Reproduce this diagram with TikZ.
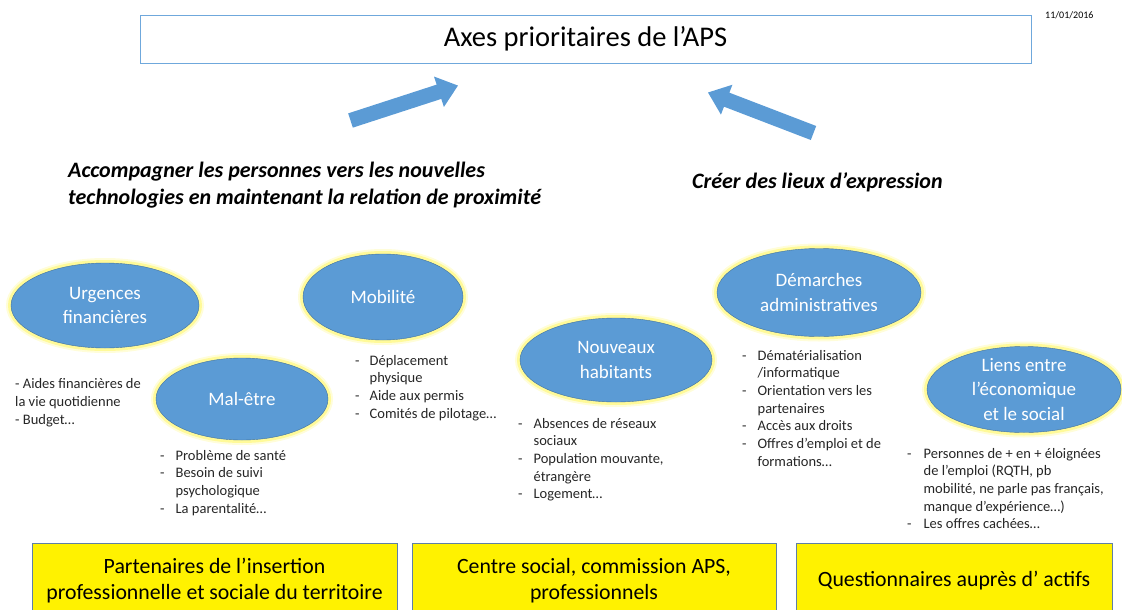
\documentclass[tikz,border=0pt]{standalone}
\usepackage{fontspec}
\setmainfont{Carlito}
\usetikzlibrary{shapes.geometric,positioning}
\definecolor{ovalblue}{HTML}{5B9BD5}
\definecolor{ovaledge}{HTML}{41719C}
\definecolor{titleedge}{HTML}{6FA8DC}
\definecolor{boxedge}{HTML}{5F7FA6}
\definecolor{listgray}{HTML}{262626}
\newcommand{\fsz}[2]{\fontsize{#1}{#2}\selectfont}
\newcommand{\blockarrow}{\fill[ovalblue] (0,-7.5) -- (93,-7.5) -- (93,-16) -- (113,0) -- (93,16) -- (93,7.5) -- (0,7.5) -- cycle;}
\tikzset{
	oval/.style={ellipse, draw=ovaledge, fill=ovalblue, inner sep=0pt,
		preaction={draw=yellow!15, line width=10pt},
		preaction={draw=yellow!40, line width=6pt}},
	ovaltext/.style={text=white, align=center, font=\fsz{19}{24.3}, inner sep=0pt},
	listtext/.style={text=listgray, font=\fsz{14.5}{17.7}, inner sep=0pt, anchor=base west},
	headtext/.style={font=\fsz{22}{27}\bfseries\itshape, inner sep=0pt, anchor=base west},
	sourcebox/.style={draw=boxedge, fill=yellow, align=center, font=\fsz{21.8}{26}, minimum height=76pt},
	titlebox/.style={draw=titleedge, minimum width=891pt, minimum height=48pt, font=\fsz{28.5}{32}}
}

\begin{document}
\begin{tikzpicture}[x=1pt, y=-1pt]
	\useasboundingbox (0,0) rectangle (1122,610);

	\node[titlebox] (title) at (585.5,39) {Axes prioritaires de l’APS};
	\node[font=\fsz{10}{12}, inner sep=0pt, anchor=base west] (date) at (1045,19) {11/01/2016};

	\begin{scope}[shift={(350.5,120.5)}, rotate=18]
		\blockarrow
	\end{scope}
	\begin{scope}[shift={(813.5,133)}, rotate=159]
		\blockarrow
	\end{scope}

	\node[headtext, align=left] (leftaxis) at (68,204) {Accompagner les personnes vers les nouvelles\\technologies en maintenant la relation de proximité};
	\node[headtext] (rightaxis) at (692,188) {Créer des lieux d’expression};

	\node[oval, minimum width=188pt, minimum height=85pt] (urgences) at (105,305.5) {};
	\node[ovaltext] (urgencesT) at (urgences) {Urgences\\financières};
	\node[oval, minimum width=172pt, minimum height=82pt] (maletre) at (242,399) {};
	\node[ovaltext] (maletreT) at (maletre) {Mal-être};
	\node[oval, minimum width=160pt, minimum height=86pt] (mobilite) at (383,297) {};
	\node[ovaltext] (mobiliteT) at (mobilite) {Mobilité};
	\node[oval, minimum width=192pt, minimum height=84pt] (nouveaux) at (616,360) {};
	\node[ovaltext] (nouveauxT) at (nouveaux) {Nouveaux\\habitants};
	\node[oval, minimum width=204pt, minimum height=88pt] (demarches) at (819,292.5) {};
	\node[ovaltext] (demarchesT) at (demarches) {Démarches\\administratives};
	\node[oval, minimum width=194pt, minimum height=86pt] (liens) at (1024,389.5) {};
	\node[ovaltext] (liensT) at (liens) {Liens entre\\l’économique\\et le social};

	\node[listtext, align=left] (urgencesL) at (15,424) {- Aides financières de\\la vie quotidienne\\- Budget…};
	\node[listtext] (maletreL) at (160,460) {\begin{tabular}[t]{@{}l@{\hspace{11pt}}l@{}}
		- & Problème de santé\\
		- & Besoin de suivi\\
		  & psychologique\\
		- & La parentalité…
	\end{tabular}};
	\node[listtext] (mobiliteL) at (355,365) {\begin{tabular}[t]{@{}l@{\hspace{10pt}}l@{}}
		- & Déplacement\\
		  & physique\\
		- & Aide aux permis\\
		- & Comités de pilotage…
	\end{tabular}};
	\node[listtext] (nouveauxL) at (518,428) {\begin{tabular}[t]{@{}l@{\hspace{11pt}}l@{}}
		- & Absences de réseaux\\
		  & sociaux\\
		- & Population mouvante,\\
		  & étrangère\\
		- & Logement…
	\end{tabular}};
	\node[listtext] (demarchesL) at (742,360) {\begin{tabular}[t]{@{}l@{\hspace{11pt}}l@{}}
		- & Dématérialisation\\
		  & /informatique\\
		- & Orientation vers les\\
		  & partenaires\\
		- & Accès aux droits\\
		- & Offres d’emploi et de\\
		  & formations…
	\end{tabular}};
	\node[listtext] (liensL) at (907,458) {\begin{tabular}[t]{@{}l@{\hspace{12pt}}l@{}}
		- & Personnes de + en + éloignées\\
		  & de l’emploi (RQTH, pb\\
		  & mobilité, ne parle pas français,\\
		  & manque d’expérience…)\\
		- & Les offres cachées…
	\end{tabular}};

	\node[sourcebox, minimum width=365pt] (partenaires) at (214.5,581) {Partenaires de l’insertion\\professionnelle et sociale du territoire};
	\node[sourcebox, minimum width=364pt] (centre) at (594,581) {Centre social, commission APS,\\professionnels};
	\node[sourcebox, minimum width=316pt] (questionnaires) at (954,581) {Questionnaires auprès d’ actifs};
\end{tikzpicture}
\end{document}
